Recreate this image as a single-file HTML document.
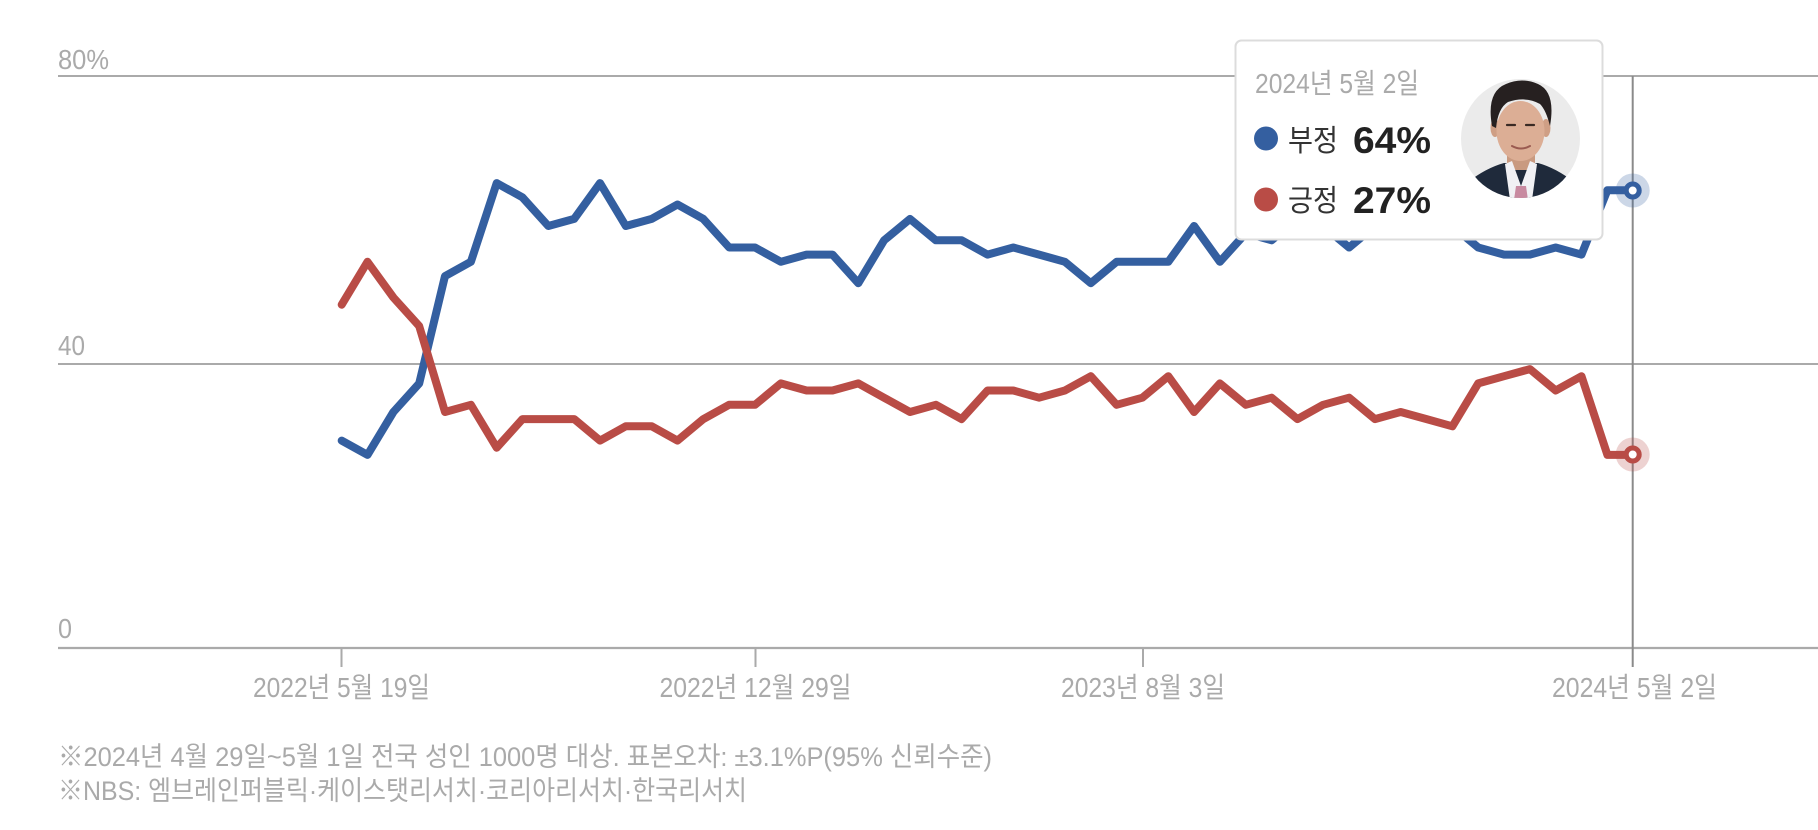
<!DOCTYPE html>
<html lang="ko">
<head>
<meta charset="utf-8">
<style>
  html, body { margin: 0; padding: 0; background: #ffffff; }
  svg { display: block; }
  text { font-family: "Liberation Sans", "Noto Sans CJK KR", sans-serif; }
</style>
</head>
<body>
<svg width="1818" height="830" viewBox="0 0 1818 830" xmlns="http://www.w3.org/2000/svg">
  <defs>
    <clipPath id="photoClip">
      <circle cx="1520.5" cy="138.5" r="59.5"/>
    </clipPath>
  </defs>

  <!-- gridlines -->
  <line x1="58" y1="76" x2="1818" y2="76" stroke="#aaaaaa" stroke-width="2"/>
  <line x1="58" y1="364" x2="1818" y2="364" stroke="#aaaaaa" stroke-width="2"/>
  <line x1="58" y1="648" x2="1818" y2="648" stroke="#aaaaaa" stroke-width="2.2"/>

  <!-- y labels -->
  <text x="58" y="69" font-size="28" fill="#aaaaaa" textLength="51" lengthAdjust="spacingAndGlyphs">80%</text>
  <text x="58" y="355" font-size="28" fill="#aaaaaa" textLength="27" lengthAdjust="spacingAndGlyphs">40</text>
  <text x="58" y="638" font-size="28" fill="#aaaaaa" textLength="14" lengthAdjust="spacingAndGlyphs">0</text>

  <!-- ticks -->
  <line x1="341.5" y1="648" x2="341.5" y2="667" stroke="#aaaaaa" stroke-width="2"/>
  <line x1="755.5" y1="648" x2="755.5" y2="667" stroke="#aaaaaa" stroke-width="2"/>
  <line x1="1143" y1="648" x2="1143" y2="667" stroke="#aaaaaa" stroke-width="2"/>

  <!-- vertical hover line -->
  <line x1="1632.7" y1="76" x2="1632.7" y2="667" stroke="#8a8a8a" stroke-width="2"/>

  <!-- x labels -->
  <text x="341.5" y="697" font-size="28" fill="#aaaaaa" text-anchor="middle" textLength="177" lengthAdjust="spacingAndGlyphs">2022년 5월 19일</text>
  <text x="755.5" y="697" font-size="28" fill="#aaaaaa" text-anchor="middle" textLength="192" lengthAdjust="spacingAndGlyphs">2022년 12월 29일</text>
  <text x="1143" y="697" font-size="28" fill="#aaaaaa" text-anchor="middle" textLength="164" lengthAdjust="spacingAndGlyphs">2023년 8월 3일</text>
  <text x="1634.5" y="697" font-size="28" fill="#aaaaaa" text-anchor="middle" textLength="165" lengthAdjust="spacingAndGlyphs">2024년 5월 2일</text>

  <!-- blue series (부정) -->
  <polyline fill="none" stroke="#345fa0" stroke-width="8" stroke-linejoin="round" stroke-linecap="round"
    points="341.7,440.6 367.5,454.9 393.4,412.0 419.2,383.4 445.0,276.1 470.9,261.8 496.7,183.1 522.5,197.4 548.3,226.0 574.2,218.9 600.0,183.1 625.8,226.0 651.7,218.9 677.5,204.5 703.3,218.9 729.2,247.5 755.0,247.5 780.8,261.8 806.6,254.6 832.5,254.6 858.3,283.2 884.1,240.3 910.0,218.9 935.8,240.3 961.6,240.3 987.5,254.6 1013.3,247.5 1039.1,254.6 1064.9,261.8 1090.8,283.2 1116.6,261.8 1142.4,261.8 1168.3,261.8 1194.1,226.0 1219.9,261.8 1245.8,233.2 1271.6,240.3 1297.4,218.9 1323.2,226.0 1349.1,247.5 1374.9,226.0 1400.7,218.9 1426.6,218.9 1452.4,226.0 1478.2,247.5 1504.1,254.6 1529.9,254.6 1555.7,247.5 1581.5,254.6 1607.4,190.2 1632.7,190.2"/>

  <!-- red series (긍정) -->
  <polyline fill="none" stroke="#b94c46" stroke-width="8" stroke-linejoin="round" stroke-linecap="round"
    points="341.7,304.7 367.5,261.8 393.4,297.5 419.2,326.1 445.0,412.0 470.9,404.8 496.7,447.7 522.5,419.1 548.3,419.1 574.2,419.1 600.0,440.6 625.8,426.3 651.7,426.3 677.5,440.6 703.3,419.1 729.2,404.8 755.0,404.8 780.8,383.4 806.6,390.5 832.5,390.5 858.3,383.4 884.1,397.7 910.0,412.0 935.8,404.8 961.6,419.1 987.5,390.5 1013.3,390.5 1039.1,397.7 1064.9,390.5 1090.8,376.2 1116.6,404.8 1142.4,397.7 1168.3,376.2 1194.1,412.0 1219.9,383.4 1245.8,404.8 1271.6,397.7 1297.4,419.1 1323.2,404.8 1349.1,397.7 1374.9,419.1 1400.7,412.0 1426.6,419.1 1452.4,426.3 1478.2,383.4 1504.1,376.2 1529.9,369.1 1555.7,390.5 1581.5,376.2 1607.4,454.9 1632.7,454.9"/>

  <!-- end markers -->
  <circle cx="1632.7" cy="190.5" r="17" fill="#345fa0" fill-opacity="0.25"/>
  <circle cx="1632.7" cy="190.5" r="6.5" fill="#ffffff" stroke="#345fa0" stroke-width="5"/>
  <circle cx="1632.7" cy="454.5" r="17" fill="#b94c46" fill-opacity="0.25"/>
  <circle cx="1632.7" cy="454.5" r="6.5" fill="#ffffff" stroke="#b94c46" stroke-width="5"/>

  <!-- tooltip -->
  <rect x="1235.5" y="40.5" width="367" height="199" rx="6" ry="6" fill="#ffffff" stroke="#dcdcdc" stroke-width="2"/>
  <text x="1255" y="93" font-size="28" fill="#aaaaaa" textLength="164" lengthAdjust="spacingAndGlyphs">2024년 5월 2일</text>

  <circle cx="1266" cy="138.5" r="12" fill="#345fa0"/>
  <text x="1288" y="151" font-size="30" fill="#333333" textLength="50" lengthAdjust="spacingAndGlyphs">부정</text>
  <text x="1353" y="153" font-size="37" font-weight="bold" fill="#222222" textLength="78" lengthAdjust="spacingAndGlyphs">64%</text>

  <circle cx="1266" cy="199.5" r="12" fill="#b94c46"/>
  <text x="1288" y="211" font-size="30" fill="#333333" textLength="50" lengthAdjust="spacingAndGlyphs">긍정</text>
  <text x="1353" y="213" font-size="37" font-weight="bold" fill="#222222" textLength="78" lengthAdjust="spacingAndGlyphs">27%</text>

  <!-- portrait -->
  <circle cx="1520.5" cy="138.5" r="59.5" fill="#ebebeb"/>
  <g clip-path="url(#photoClip)">
    <path d="M1462,205 L1468,182 Q1486,168 1504,163 L1538,163 Q1556,168 1574,182 L1580,205 Z" fill="#1f2a3b"/>
    <rect x="1507" y="146" width="28" height="24" fill="#c99a80"/>
    <path d="M1505,164 L1512,161 L1521,186 L1530,161 L1537,164 L1532,200 L1510,200 Z" fill="#f1f1f4"/>
    <path d="M1516,186 L1526,186 L1528,200 L1514,200 Z" fill="#c88aa0"/>
    <ellipse cx="1495" cy="128" rx="4.5" ry="9" fill="#cf9f85"/>
    <ellipse cx="1546" cy="128" rx="4.5" ry="9" fill="#cf9f85"/>
    <ellipse cx="1520.5" cy="131" rx="24" ry="30" fill="#dcae95"/>
    <path d="M1492,126 Q1486,92 1506,84 Q1522,77 1538,84 Q1556,92 1550,126 Q1546,110 1540,104 Q1526,96 1508,102 Q1498,108 1496,128 Z" fill="#262020"/>
    <path d="M1507,125 L1515,125" stroke="#3a2a24" stroke-width="2.2" stroke-linecap="round"/>
    <path d="M1526,125 L1534,125" stroke="#3a2a24" stroke-width="2.2" stroke-linecap="round"/>
    <path d="M1512,146 Q1521,151 1530,146" stroke="#9a5a50" stroke-width="2" fill="none" stroke-linecap="round"/>
  </g>

  <!-- footer -->
  <text x="58" y="766" font-size="27" fill="#aaaaaa" textLength="934" lengthAdjust="spacingAndGlyphs">※2024년 4월 29일~5월 1일 전국 성인 1000명 대상. 표본오차: ±3.1%P(95% 신뢰수준)</text>
  <text x="58" y="800" font-size="27" fill="#aaaaaa" textLength="689" lengthAdjust="spacingAndGlyphs">※NBS: 엠브레인퍼블릭·케이스탯리서치·코리아리서치·한국리서치</text>
</svg>
</body>
</html>
